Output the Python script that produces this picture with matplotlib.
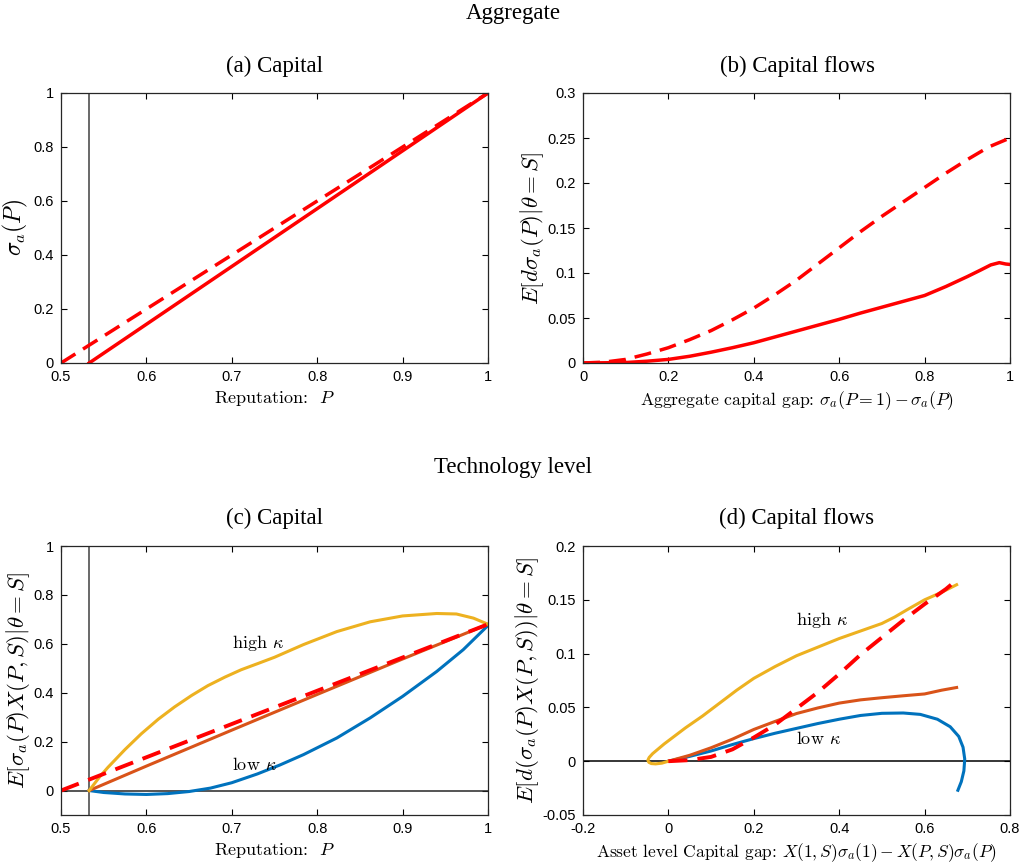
import matplotlib
matplotlib.use('Agg')
from matplotlib import pyplot as plt
from matplotlib.ticker import FuncFormatter

plt.rcParams['mathtext.fontset'] = 'cm'
plt.rcParams['axes.unicode_minus'] = False

# (a) capital vs reputation
p_cut = 0.533
a_solid_p = [0.533, 1.0]
a_solid_s = [0.0, 1.0]
a_dash_p = [0.5, 1.0]
a_dash_s = [0.0, 1.0]

# (b) capital flows vs aggregate gap
b_gap = [0, 0.1, 0.15, 0.2, 0.25, 0.3, 0.35, 0.4, 0.45, 0.5, 0.55, 0.6,
         0.65, 0.7, 0.75, 0.8, 0.85, 0.9, 0.93, 0.955, 0.975, 0.99, 1.0]
b_solid = [0, 0.0005, 0.002, 0.004, 0.0075, 0.012, 0.017, 0.0225, 0.029, 0.0355,
           0.042, 0.0485, 0.0555, 0.062, 0.0685, 0.075, 0.085, 0.096, 0.103, 0.109,
           0.1115, 0.110, 0.1095]
b_dash_gap = [0, 0.05, 0.1, 0.15, 0.2, 0.25, 0.3, 0.35, 0.4, 0.45, 0.5, 0.55, 0.6,
              0.65, 0.7, 0.75, 0.8, 0.85, 0.9, 0.95, 1.0]
b_dash = [0, 0.001, 0.004, 0.010, 0.017, 0.026, 0.036, 0.048, 0.061, 0.076, 0.092,
          0.110, 0.128, 0.146, 0.163, 0.179, 0.195, 0.211, 0.226, 0.240, 0.250]

# (c) technology-level capital
c_hi_p = [0.533, 0.545, 0.555, 0.575, 0.594, 0.614, 0.633, 0.653, 0.672, 0.692,
          0.711, 0.731, 0.75, 0.784, 0.823, 0.862, 0.90, 0.94, 0.963, 0.983, 1.0]
c_hi = [0, 0.055, 0.095, 0.168, 0.232, 0.292, 0.342, 0.389, 0.429, 0.464, 0.494,
        0.520, 0.545, 0.597, 0.650, 0.690, 0.714, 0.724, 0.722, 0.705, 0.68]
c_mid_p = [0.533, 0.6, 0.7, 0.8, 0.9, 1.0]
c_mid = [0, 0.100, 0.247, 0.393, 0.538, 0.68]
c_lo_p = [0.533, 0.55, 0.575, 0.6, 0.625, 0.65, 0.675, 0.7, 0.73, 0.756, 0.784,
          0.823, 0.862, 0.9, 0.94, 0.971, 1.0]
c_lo = [0, -0.008, -0.014, -0.016, -0.0125, -0.004, 0.010, 0.032, 0.068, 0.104,
        0.147, 0.215, 0.297, 0.385, 0.487, 0.576, 0.675]
c_dash_p = [0.5, 1.0]
c_dash = [0.0, 0.68]

# (d) technology-level capital flows vs asset-level gap
d_hi_gap = [0, -0.015, -0.03, -0.04, -0.046, -0.048, -0.045, -0.037, -0.025, -0.01,
            0.0, 0.04, 0.08, 0.12, 0.16, 0.2, 0.25, 0.3, 0.35, 0.4, 0.45, 0.5, 0.53,
            0.56, 0.6, 0.64, 0.675]
d_hi = [0, -0.0018, -0.0025, -0.0022, -0.001, 0.001, 0.0035, 0.007, 0.011, 0.016,
        0.019, 0.031, 0.042, 0.054, 0.066, 0.077, 0.088, 0.098, 0.106, 0.114, 0.121,
        0.128, 0.134, 0.141, 0.150, 0.157, 0.164]
d_mid_gap = [0, 0.05, 0.1, 0.15, 0.2, 0.25, 0.3, 0.35, 0.4, 0.45, 0.5, 0.55, 0.6,
             0.64, 0.675]
d_mid = [0, 0.0055, 0.0125, 0.0205, 0.0295, 0.037, 0.0443, 0.0495, 0.054, 0.057,
         0.059, 0.0608, 0.0625, 0.066, 0.0685]
d_lo_gap = [0, 0.05, 0.1, 0.15, 0.2, 0.25, 0.3, 0.35, 0.4, 0.45, 0.5, 0.55, 0.59,
            0.63, 0.66, 0.68, 0.69, 0.694, 0.692, 0.686, 0.678]
d_lo = [0, 0.0045, 0.0095, 0.0155, 0.021, 0.026, 0.0305, 0.035, 0.039, 0.0425,
        0.0445, 0.0448, 0.0435, 0.039, 0.032, 0.023, 0.013, 0.002, -0.009, -0.019,
        -0.027]
d_dash_gap = [0, 0.05, 0.1, 0.15, 0.2, 0.25, 0.3, 0.35, 0.4, 0.45, 0.5, 0.55, 0.6,
              0.65, 0.68]
d_dash = [0, 0.001, 0.004, 0.011, 0.022, 0.034, 0.049, 0.064, 0.081, 0.099, 0.115,
          0.131, 0.146, 0.160, 0.170]

blue = '#0072BD'
orange = '#D95319'
yellow = '#EDB120'
red = '#FF0000'
dash = (4.9, 2.6)

fig = plt.figure(figsize=(10.27, 8.65), dpi=100)
W, H = 1027, 865


def make_ax(x0, x1, ytop, ybot):
    ax = fig.add_axes([x0 / W, 1 - ybot / H, (x1 - x0) / W, (ybot - ytop) / H])
    ax.tick_params(direction='in', top=True, right=True, length=4.5, width=0.8,
                   labelsize=10.5, pad=5)
    for sp in ax.spines.values():
        sp.set_color('#262626')
        sp.set_linewidth(0.9)
    ax.xaxis.set_major_formatter(FuncFormatter(lambda v, pos: '%g' % round(v, 3)))
    ax.yaxis.set_major_formatter(FuncFormatter(lambda v, pos: '%g' % round(v, 3)))
    return ax


def style_ticks(ax):
    for lab in ax.get_xticklabels() + ax.get_yticklabels():
        lab.set_family('Liberation Sans')
        lab.set_fontsize(10.5)


lab_font = dict(family='cmr10', fontsize=13)
title_font = dict(family='Liberation Serif', fontsize=16.5)

ax_a = make_ax(61, 488, 93, 363)
ax_b = make_ax(583, 1010, 93, 363)
ax_c = make_ax(61, 488, 546, 815)
ax_d = make_ax(583, 1010, 546, 815)

# (a)
ax_a.axvline(p_cut, color='#404040', lw=1.1)
ax_a.plot(a_solid_p, a_solid_s, color=red, lw=2.5)
ax_a.plot(a_dash_p, a_dash_s, color=red, lw=2.5, dashes=dash)
ax_a.set_xlim(0.5, 1)
ax_a.set_ylim(0, 1)
ax_a.set_xticks([0.5, 0.6, 0.7, 0.8, 0.9, 1.0])
ax_a.set_yticks([0, 0.2, 0.4, 0.6, 0.8, 1.0])
ax_a.set_xlabel('Reputation:  $P$', labelpad=4, **lab_font)
ax_a.set_ylabel(r'$\sigma_a(P)$', labelpad=3, fontsize=17)

# (b)
ax_b.plot(b_gap, b_solid, color=red, lw=2.5)
ax_b.plot(b_dash_gap, b_dash, color=red, lw=2.5, dashes=dash)
ax_b.set_xlim(0, 1)
ax_b.set_ylim(0, 0.3)
ax_b.set_xticks([0, 0.2, 0.4, 0.6, 0.8, 1.0])
ax_b.set_yticks([0, 0.05, 0.1, 0.15, 0.2, 0.25, 0.3])
ax_b.set_xlabel(r'Aggregate capital gap: $\sigma_a(P=1)-\sigma_a(P)$', labelpad=4,
                family='cmr10', fontsize=12.7)
ax_b.set_ylabel(r'$E[d\sigma_a(P)|\theta=S]$', labelpad=1, fontsize=16.5)

# (c)
ax_c.axvline(p_cut, color='#404040', lw=1.1)
ax_c.axhline(0, color='#262626', lw=1.1)
ax_c.plot(c_lo_p, c_lo, color=blue, lw=2.2)
ax_c.plot(c_mid_p, c_mid, color=orange, lw=2.2)
ax_c.plot(c_hi_p, c_hi, color=yellow, lw=2.2)
ax_c.plot(c_dash_p, c_dash, color=red, lw=2.8, dashes=dash)
ax_c.set_xlim(0.5, 1)
ax_c.set_ylim(-0.1, 1)
ax_c.set_xticks([0.5, 0.6, 0.7, 0.8, 0.9, 1.0])
ax_c.set_yticks([0, 0.2, 0.4, 0.6, 0.8, 1.0])
ax_c.text(0.70, 0.604, r'high $\kappa$', ha='left', va='center', **lab_font)
ax_c.text(0.70, 0.106, r'low $\kappa$', ha='left', va='center', **lab_font)
ax_c.set_xlabel('Reputation:  $P$', labelpad=4, **lab_font)
ax_c.set_ylabel(r'$E[\sigma_a(P)X(P,S)|\theta=S]$', labelpad=1, fontsize=16.5)

# (d)
ax_d.axhline(0, color='k', lw=1.1)
ax_d.plot(d_lo_gap, d_lo, color=blue, lw=2.2)
ax_d.plot(d_mid_gap, d_mid, color=orange, lw=2.2)
ax_d.plot(d_hi_gap, d_hi, color=yellow, lw=2.2)
ax_d.plot(d_dash_gap, d_dash, color=red, lw=2.8, dashes=dash)
ax_d.set_xlim(-0.2, 0.8)
ax_d.set_ylim(-0.05, 0.2)
ax_d.set_xticks([-0.2, 0, 0.2, 0.4, 0.6, 0.8])
ax_d.set_yticks([-0.05, 0, 0.05, 0.1, 0.15, 0.2])
ax_d.text(0.30, 0.131, r'high $\kappa$', ha='left', va='center', **lab_font)
ax_d.text(0.30, 0.021, r'low $\kappa$', ha='left', va='center', **lab_font)
ax_d.set_xlabel(r'Asset level Capital gap: $X(1,S)\sigma_a(1)-X(P,S)\sigma_a(P)$',
                labelpad=4, family='cmr10', fontsize=12.5)
ax_d.set_ylabel(r'$E[d(\sigma_a(P)X(P,S))|\theta=S]$', labelpad=1, fontsize=16.5)

for ax in (ax_a, ax_b, ax_c, ax_d):
    style_ticks(ax)

fig.text(513 / W, 1 - 14 / H, 'Aggregate', ha='center', va='center', **title_font)
fig.text(275 / W, 1 - 66 / H, '(a) Capital', ha='center', va='center', **title_font)
fig.text(797 / W, 1 - 66 / H, '(b) Capital flows', ha='center', va='center', **title_font)
fig.text(513 / W, 1 - 468 / H, 'Technology level', ha='center', va='center', **title_font)
fig.text(275 / W, 1 - 518 / H, '(c) Capital', ha='center', va='center', **title_font)
fig.text(797 / W, 1 - 518 / H, '(d) Capital flows', ha='center', va='center', **title_font)

fig.savefig('out.png', dpi=100)
